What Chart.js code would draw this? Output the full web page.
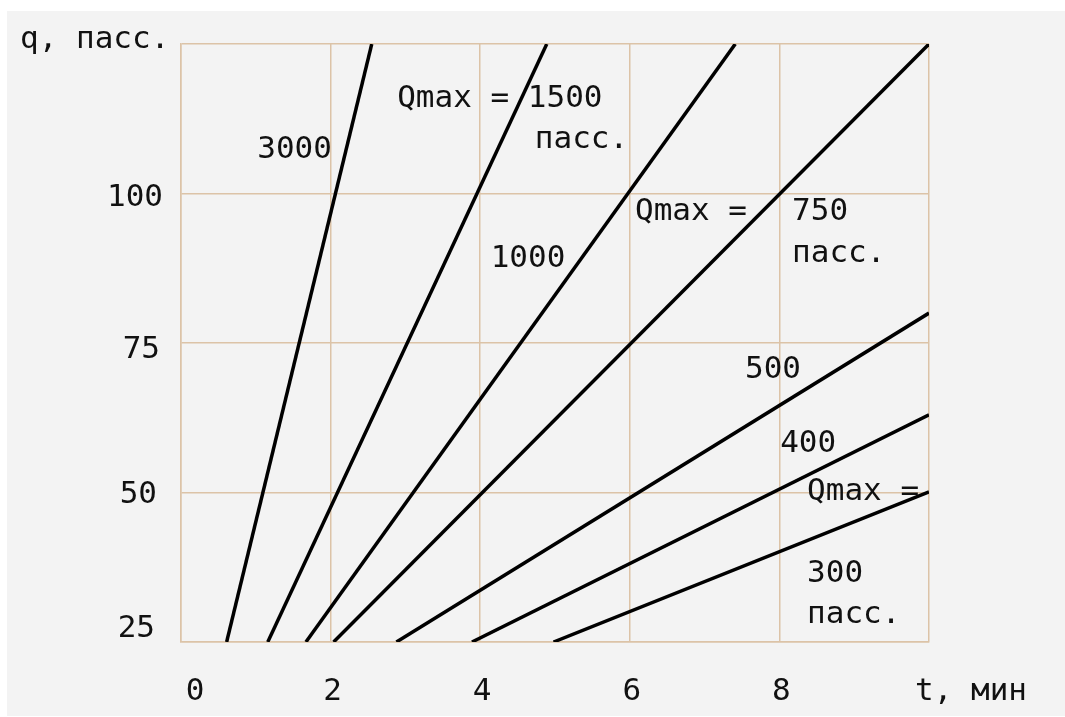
<!DOCTYPE html>
<html>
<head>
<meta charset="utf-8">
<script src="https://cdn.jsdelivr.net/npm/chart.js@4"></script>
<style>
  html, body { margin: 0; padding: 0; background: #ffffff; }
  body { width: 1065px; height: 717px; overflow: hidden; }
  #wrap { width: 1065px; height: 717px; }
</style>
</head>
<body>
<div id="wrap"><canvas id="chart" width="1065" height="717"></canvas></div>
<script>
// --- data: q (пасс.) against t (мин) ---
const seriesNames = ["3000", "1500", "1000", "750", "500", "400", "300"];
const tStart = [0.61, 1.16, 1.67, 2.04, 2.88, 3.89, 4.98];
const qStart = [25, 25, 25, 25, 25, 25, 25];
const tEnd = [2.55, 4.89, 7.41, 10, 10, 10, 10];
const qEnd = [125, 125, 125, 125, 80.0, 63.0, 50.1];

const xTicks = [0, 2, 4, 6, 8, 10];
const xTickLabels = ["0", "2", "4", "6", "8", ""];
const yTicks = [25, 50, 75, 100, 125];
const yTickLabels = ["25", "50", "75", "100", ""];

// labels written on the field (text, t, q)
const noteText = ["3000", "Qmax = 1500", "пасс.", "1000", "Qmax =", "750", "пасс.", "500", "400", "Qmax =", "300", "пасс."];
const noteT = [1.02, 2.89, 4.73, 4.14, 6.07, 8.17, 8.17, 7.54, 8.01, 8.37, 8.37, 8.37];
const noteQ = [105.9, 114.5, 107.6, 87.7, 95.6, 95.6, 88.5, 69.1, 56.8, 48.7, 35.0, 28.2];

const FONT = "'DejaVu Sans Mono', monospace";
const INK = "#111";
const GRID = "#dcc3a7";
const PAPER = "#f3f3f3";

const datasets = seriesNames.map((name, i) => ({
  label: name,
  data: [{ x: tStart[i], y: qStart[i] }, { x: tEnd[i], y: qEnd[i] }],
  borderColor: "#000",
  borderWidth: 3.5,
  pointRadius: 0,
  showLine: true,
  fill: false,
}));

// grey sheet with a thin white margin on the top and left
const paperPlugin = {
  id: "paper",
  beforeDraw(chart) {
    const ctx = chart.ctx;
    ctx.save();
    ctx.fillStyle = PAPER;
    ctx.fillRect(7, 11, chart.width - 7, chart.height - 12);
    ctx.restore();
  },
};

// hand nudges so the tick text sits where the original put it
const yLabelShift = { 25: [155, -5], 50: [157, 10], 75: [160, 15], 100: [163, 12] };

// text on the plot, tick labels and the axis names
const notesPlugin = {
  id: "notes",
  beforeDatasetsDraw(chart) {
    const ctx = chart.ctx;
    const xs = chart.scales.x, ys = chart.scales.y;
    ctx.save();
    ctx.font = "31px " + FONT;
    ctx.fillStyle = INK;
    ctx.textAlign = "left";
    ctx.textBaseline = "alphabetic";
    noteText.forEach((txt, i) => {
      ctx.fillText(txt, xs.getPixelForValue(noteT[i]), ys.getPixelForValue(noteQ[i]));
    });
    ctx.restore();
  },
  afterDraw(chart) {
    const ctx = chart.ctx;
    const area = chart.chartArea;
    const xs = chart.scales.x, ys = chart.scales.y;
    ctx.save();
    ctx.font = "31px " + FONT;
    ctx.fillStyle = INK;
    ctx.textBaseline = "alphabetic";

    // x tick labels (the 0 sits a bit right of its line, as in the original)
    ctx.textAlign = "center";
    xTicks.forEach((v, i) => {
      const nudge = v === 0 ? 14 : 2;
      ctx.fillText(xTickLabels[i], xs.getPixelForValue(v) + nudge, area.bottom + 58);
    });

    // y tick labels
    ctx.textAlign = "right";
    yTicks.forEach((v, i) => {
      const s = yLabelShift[v];
      if (!s) return;
      ctx.fillText(yTickLabels[i], s[0], ys.getPixelForValue(v) + s[1]);
    });

    ctx.textAlign = "left";
    ctx.fillText("q, пасс.", 20, area.top + 4);
    ctx.fillText("t, мин", area.right - 14, area.bottom + 58);
    ctx.restore();
  },
};

new Chart(document.getElementById("chart"), {
  type: "scatter",
  data: { datasets },
  options: {
    responsive: false,
    animation: false,
    devicePixelRatio: 1,
    layout: { padding: { top: 44, right: 136, left: 0, bottom: 0 } },
    plugins: { legend: { display: false }, tooltip: { enabled: false } },
    scales: {
      x: {
        type: "linear",
        min: 0,
        max: 10,
        afterBuildTicks: (s) => { s.ticks = xTicks.map((v) => ({ value: v })); },
        afterFit: (s) => { s.height = 75; },
        grid: { color: GRID, lineWidth: 1.5, drawTicks: false },
        border: { color: GRID, width: 1.5 },
        ticks: { display: false },
      },
      y: {
        type: "linear",
        min: 25,
        max: 125,
        afterBuildTicks: (s) => { s.ticks = yTicks.map((v) => ({ value: v })); },
        afterFit: (s) => { s.width = 181; },
        grid: { color: GRID, lineWidth: 1.5, drawTicks: false },
        border: { color: GRID, width: 1.5 },
        ticks: { display: false },
      },
    },
  },
  plugins: [paperPlugin, notesPlugin],
});
</script>
</body>
</html>
